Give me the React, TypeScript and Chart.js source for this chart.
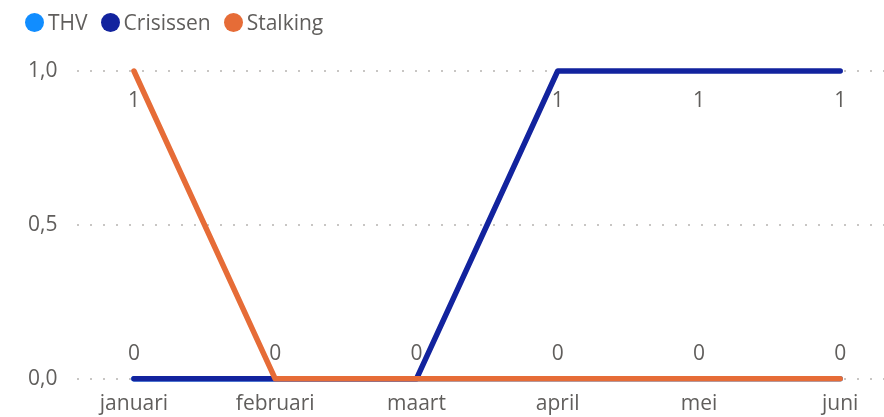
import React, { useEffect, useRef } from "react";
import { Chart, registerables } from "chart.js";

Chart.register(...registerables);

const months = ["januari", "februari", "maart", "april", "mei", "juni"];
const thv = [0, 0, 0, 0, 0, 0];
const crisissen = [0, 0, 0, 1, 1, 1];
const stalking = [1, 0, 0, 0, 0, 0];
const yTicks = [0, 0.5, 1];

const seriesNames = ["THV", "Crisissen", "Stalking"];
const seriesColors = ["#118DFF", "#12239E", "#E66C37"];
const FONT = "'Segoe UI', 'Open Sans', sans-serif";
const TEXT = "#605E5C";
const FS = 21;

const labelPlugin = {
  id: "valueLabels",
  afterDatasetsDraw(chart: any) {
    const { ctx } = chart;
    const xs = chart.scales.x;
    const ys = chart.scales.y;
    ctx.save();
    ctx.font = `${FS}px ${FONT}`;
    ctx.fillStyle = TEXT;
    ctx.textAlign = "center";
    ctx.textBaseline = "middle";
    months.forEach((_, i) => {
      const vals = new Set<number>();
      chart.data.datasets.forEach((ds: any) => vals.add(ds.data[i].y));
      vals.forEach((v) => {
        const px = xs.getPixelForValue(i);
        const py = ys.getPixelForValue(v);
        const dy = v >= 1 ? 30 : -25;
        ctx.fillText(String(v), px, py + dy);
      });
    });
    ctx.restore();
  },
};

export default function App() {
  const ref = useRef<HTMLCanvasElement>(null);
  useEffect(() => {
    document.body.style.margin = "0";
    const toPts = (arr: number[]) => arr.map((y, i) => ({ x: i, y }));
    const chart = new Chart(ref.current!, {
      type: "line",
      data: {
        datasets: [
          { label: seriesNames[2], data: toPts(stalking), borderColor: seriesColors[2], order: 1 },
          { label: seriesNames[1], data: toPts(crisissen), borderColor: seriesColors[1], order: 2 },
          { label: seriesNames[0], data: toPts(thv), borderColor: seriesColors[0], order: 3 },
        ].map((d) => ({
          ...d,
          borderWidth: 5.5,
          pointRadius: 0,
          borderCapStyle: "round" as const,
          borderJoinStyle: "round" as const,
          tension: 0,
          clip: false as any,
        })),
      },
      options: {
        animation: false,
        responsive: false,
        maintainAspectRatio: false,
        layout: { padding: { top: 71, right: 0, left: 8, bottom: -5 } },
        plugins: { legend: { display: false }, tooltip: { enabled: false } },
        scales: {
          x: {
            type: "linear",
            min: -0.4,
            max: 5.31,
            grid: { display: false },
            border: { display: false },
            afterBuildTicks: (s: any) => {
              s.ticks = months.map((_, i) => ({ value: i }));
            },
            ticks: {
              color: TEXT,
              font: { family: FONT, size: FS },
              padding: 5,
              maxRotation: 0,
              autoSkip: false,
              callback: (v: any) => months[v as number],
            },
          },
          y: {
            min: 0,
            max: 1,
            afterBuildTicks: (s: any) => {
              s.ticks = yTicks.map((v) => ({ value: v }));
            },
            grid: {
              color: "#C8C6C4",
              lineWidth: 2,
              drawTicks: false,
            },
            border: { display: false, dash: [2, 11] },
            ticks: {
              color: TEXT,
              font: { family: FONT, size: FS },
              padding: 20,
              callback: (v: any) => Number(v).toFixed(1).replace(".", ","),
            },
          },
        },
      },
      plugins: [labelPlugin],
    });
    return () => chart.destroy();
  }, []);

  return (
    <div style={{ position: "relative", width: 884, height: 417 }}>
      <canvas ref={ref} width={884} height={417} style={{ display: "block" }} />
      <div
        style={{
          position: "absolute",
          left: 25,
          top: 8,
          display: "flex",
          alignItems: "center",
          fontFamily: FONT,
          fontSize: 21,
          color: TEXT,
        }}
      >
        {seriesNames.map((n, i) => (
          <div key={n} style={{ display: "flex", alignItems: "center", marginRight: 13 }}>
            <span
              style={{
                width: 19,
                height: 19,
                borderRadius: "50%",
                background: seriesColors[i],
                display: "inline-block",
                marginRight: 4,
              }}
            />
            <span>{n}</span>
          </div>
        ))}
      </div>
    </div>
  );
}
